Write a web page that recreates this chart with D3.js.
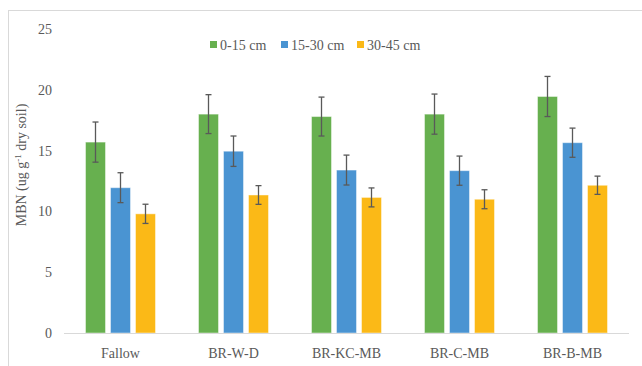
<!DOCTYPE html>
<html>
<head>
<meta charset="utf-8">
<script src="https://cdn.jsdelivr.net/npm/d3@7/dist/d3.min.js"></script>
<style>
	body { margin: 0; background: #fff; }
	svg text { fill: #595959; }
</style>
</head>
<body>
<div id="chart"></div>
<script>

var categories = ['Fallow', 'BR-W-D', 'BR-KC-MB', 'BR-C-MB', 'BR-B-MB'];
var series = ['0-15 cm', '15-30 cm', '30-45 cm'];
var colors = ['#67b04f', '#4a94d2', '#fbb917'];

// MBN means per depth, one value per category
var mbn0_15 = [15.7, 18.0, 17.8, 18.0, 19.45];
var mbn15_30 = [11.95, 14.95, 13.4, 13.35, 15.65];
var mbn30_45 = [9.8, 11.35, 11.15, 11.0, 12.15];

// error bar half widths
var err0_15 = [1.65, 1.6, 1.6, 1.65, 1.65];
var err15_30 = [1.23, 1.25, 1.23, 1.2, 1.2];
var err30_45 = [0.79, 0.77, 0.78, 0.78, 0.75];

var yTicks = [0, 5, 10, 15, 20, 25];

var values = [mbn0_15, mbn15_30, mbn30_45];
var errors = [err0_15, err15_30, err30_45];

var FONT = "'Liberation Serif', 'Times New Roman', Times, 'DejaVu Serif', serif";

var W = 642, H = 366;
var margin = { top: 29, right: 13, bottom: 33, left: 64 };

var svg = d3.select('#chart').append('svg')
	.attr('width', W)
	.attr('height', H)
	.attr('font-family', FONT);

// chart frame
svg.append('rect')
	.attr('x', 8.5).attr('y', 10.5)
	.attr('width', W).attr('height', H)
	.attr('fill', 'none')
	.attr('stroke', '#d9d9d9');

var x0 = d3.scaleBand()
	.domain(categories)
	.range([margin.left, W - margin.right]);

var x1 = d3.scaleBand()
	.domain(series)
	.range([0, x0.bandwidth()])
	.paddingInner(0.2)
	.paddingOuter(0.86);

var y = d3.scaleLinear()
	.domain([0, 25])
	.range([H - margin.bottom, margin.top]);

// y tick labels (no axis line)
svg.selectAll('.ytick')
	.data(yTicks)
	.enter().append('text')
	.attr('class', 'ytick')
	.attr('x', 52)
	.attr('y', function (d) { return y(d); })
	.attr('dy', '0.35em')
	.attr('text-anchor', 'end')
	.attr('font-family', FONT)
	.style('font-size', '14px')
	.text(function (d) { return d; });

// bars
var rows = [];
categories.forEach(function (c, i) {
	series.forEach(function (s, j) {
		rows.push({ cat: c, s: s, j: j, v: values[j][i], e: errors[j][i] });
	});
});

svg.selectAll('.bar')
	.data(rows)
	.enter().append('rect')
	.attr('class', 'bar')
	.attr('x', function (d) { return x0(d.cat) + x1(d.s); })
	.attr('y', function (d) { return y(d.v); })
	.attr('width', x1.bandwidth())
	.attr('height', function (d) { return y(0) - y(d.v); })
	.attr('fill', function (d) { return colors[d.j]; })
	.attr('stroke', '#ffffff')
	.attr('stroke-opacity', 0.45)
	.attr('stroke-width', 1);

// x axis line
svg.append('line')
	.attr('x1', margin.left).attr('x2', W - margin.right)
	.attr('y1', y(0) + 0.5).attr('y2', y(0) + 0.5)
	.attr('stroke', '#d9d9d9')
	.attr('stroke-width', 1);

// error bars
var eb = svg.selectAll('.err')
	.data(rows)
	.enter().append('g')
	.attr('class', 'err')
	.attr('stroke', '#595959')
	.attr('stroke-width', 1.3);
eb.append('line')
	.attr('x1', function (d) { return x0(d.cat) + x1(d.s) + x1.bandwidth() / 2; })
	.attr('x2', function (d) { return x0(d.cat) + x1(d.s) + x1.bandwidth() / 2; })
	.attr('y1', function (d) { return y(d.v + d.e); })
	.attr('y2', function (d) { return y(d.v - d.e); });
[1, -1].forEach(function (sign) {
	eb.append('line')
		.attr('x1', function (d) { return x0(d.cat) + x1(d.s) + x1.bandwidth() / 2 - 3; })
		.attr('x2', function (d) { return x0(d.cat) + x1(d.s) + x1.bandwidth() / 2 + 3; })
		.attr('y1', function (d) { return y(d.v + sign * d.e); })
		.attr('y2', function (d) { return y(d.v + sign * d.e); });
});

// category labels
svg.selectAll('.xlab')
	.data(categories)
	.enter().append('text')
	.attr('class', 'xlab')
	.attr('x', function (d) { return x0(d) + x0.bandwidth() / 2; })
	.attr('y', y(0) + 25)
	.attr('text-anchor', 'middle')
	.attr('font-family', FONT)
	.style('font-size', '14px')
	.text(function (d) { return d; });

// y axis title
var yt = svg.append('text')
	.attr('transform', 'translate(26,' + 165 + ') rotate(-90)')
	.attr('text-anchor', 'middle')
	.attr('font-family', FONT)
	.style('font-size', '14px');
yt.append('tspan').text('MBN (ug g');
yt.append('tspan').attr('dy', -5).style('font-size', '9px').text('-1');
yt.append('tspan').attr('dy', 5).text(' dry soil)');

// legend
var legX = [210, 281, 357];
var leg = svg.selectAll('.leg')
	.data(series)
	.enter().append('g')
	.attr('class', 'leg')
	.attr('transform', function (d, i) { return 'translate(' + legX[i] + ',45)'; });
leg.append('rect')
	.attr('x', 0).attr('y', -4)
	.attr('width', 7).attr('height', 7)
	.attr('fill', function (d, i) { return colors[i]; });
leg.append('text')
	.attr('x', 10)
	.attr('y', 0)
	.attr('dy', '0.35em')
	.attr('font-family', FONT)
	.style('font-size', '14px')
	.text(function (d) { return d; });

</script>
</body>
</html>
